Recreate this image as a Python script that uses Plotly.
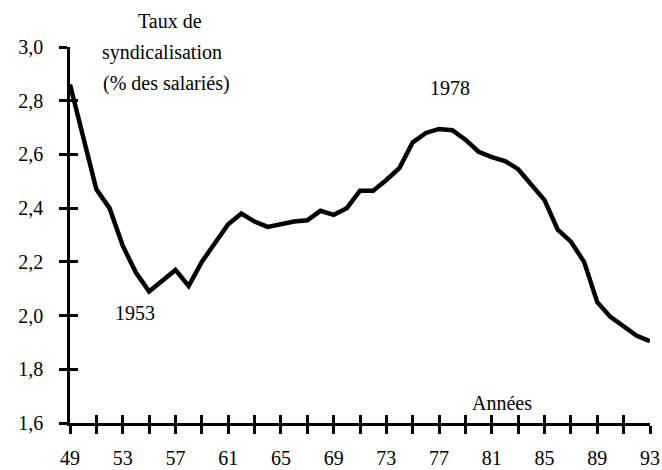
import plotly.graph_objects as go

years = list(range(49, 94))
taux = [2.86, 2.66, 2.47, 2.40, 2.26, 2.16, 2.09, 2.13, 2.17, 2.11,
        2.20, 2.27, 2.34, 2.38, 2.35, 2.33, 2.34, 2.35, 2.355, 2.39,
        2.375, 2.40, 2.465, 2.465, 2.505, 2.55, 2.645, 2.68, 2.695, 2.69,
        2.655, 2.61, 2.59, 2.575, 2.545, 2.49, 2.43, 2.32, 2.275, 2.20,
        2.05, 1.995, 1.96, 1.925, 1.905]

x_tickvals = list(range(49, 94, 2))
x_ticktext = [str(v) if (v - 49) % 4 == 0 else "" for v in x_tickvals]
y_tickvals = [1.6, 1.8, 2.0, 2.2, 2.4, 2.6, 2.8, 3.0]
y_ticktext = ["1,6", "1,8", "2,0", "2,2", "2,4", "2,6", "2,8", "3,0"]

FONT = "Liberation Serif"
FS = 20

fig = go.Figure()
fig.add_trace(go.Scatter(x=years, y=taux, mode="lines",
                         line=dict(color="black", width=4.5),
                         showlegend=False, hoverinfo="skip", cliponaxis=False))
# invisible trace for the overlay axes (inner halves of crossing ticks)
fig.add_trace(go.Scatter(x=years, y=taux, mode="lines", xaxis="x2", yaxis="y2",
                         line=dict(color="rgba(0,0,0,0)", width=0),
                         showlegend=False, hoverinfo="skip"))

common_x = dict(range=[49, 93], tickvals=x_tickvals, showgrid=False, zeroline=False,
                ticklen=8, tickwidth=2.5, tickcolor="black", automargin=False)
common_y = dict(range=[1.6, 3.0], tickvals=y_tickvals, showgrid=False, zeroline=False,
                ticklen=8, tickwidth=2.5, tickcolor="black", automargin=False)

fig.update_layout(
    width=662, height=470,
    margin=dict(l=70, r=12, t=47, b=47),
    paper_bgcolor="white", plot_bgcolor="white",
    font=dict(family=FONT, size=FS, color="black"),
    xaxis=dict(**common_x, ticktext=x_ticktext, ticks="outside",
               showline=True, linecolor="black", linewidth=2.5,
               ticklabelstandoff=7, tickfont=dict(family=FONT, size=FS)),
    yaxis=dict(**common_y, ticktext=y_ticktext, ticks="outside",
               showline=True, linecolor="black", linewidth=2.5,
               ticklabelstandoff=12, tickfont=dict(family=FONT, size=FS)),
    xaxis2=dict(**common_x, overlaying="x", anchor="y2", side="bottom", ticks="inside",
                showticklabels=False, showline=False),
    yaxis2=dict(**common_y, overlaying="y", anchor="x2", side="left", ticks="inside",
                showticklabels=False, showline=False),
)

ann = [
    ("Taux de", 56.6, 3.096),
    ("syndicalisation", 56.0, 2.98),
    ("(% des salariés)", 56.3, 2.865),
    ("1978", 77.8, 2.846),
    ("1953", 53.9, 2.01),
    ("Années", 81.8, 1.675),
]
y0, y1 = 1.6, 3.0
for text, x, y in ann:
    fig.add_annotation(text=text, x=x, y=(y - y0) / (y1 - y0), xref="x", yref="paper",
                       showarrow=False, xanchor="center", yanchor="middle",
                       font=dict(family=FONT, size=FS, color="black"))

fig.write_html("out.html", config={"displayModeBar": False},
               post_script="document.body.style.margin='0';document.body.style.padding='0';")
